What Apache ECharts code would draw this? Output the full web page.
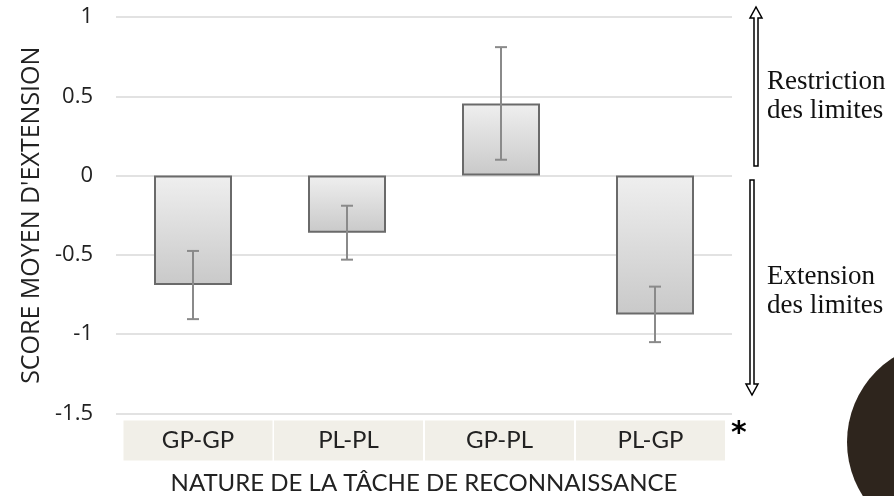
<!DOCTYPE html>
<html>
<head>
<meta charset="utf-8">
<script src="https://cdn.jsdelivr.net/npm/echarts@6/dist/echarts.min.js"></script>
<style>html,body{margin:0;padding:0;background:#fff;}#c{width:894px;height:496px;}</style>
</head>
<body>
<div id="c"></div>
<script>
const categories = ['GP-GP', 'PL-PL', 'GP-PL', 'PL-GP'];
const means = [-0.69, -0.36, 0.455, -0.875];
const errors = [0.215, 0.17, 0.355, 0.175];
const yTicks = [-1.5, -1, -0.5, 0, 0.5, 1];
const yTitle = "SCORE MOYEN D'EXTENSION";
const xTitle = 'NATURE DE LA TÂCHE DE RECONNAISSANCE';
const sideTop = 'Restriction\ndes limites';
const sideBottom = 'Extension\ndes limites';

// horizontal nudge (px) of each label box relative to its category centre
const boxShift = [5, 1.5, -1.5, -4.5];

const chart = echarts.init(document.getElementById('c'));
const errData = means.map((m, i) => [i, m - errors[i], m + errors[i]]);

chart.setOption({
  animation: false,
  grid: { left: 116, right: 162, top: 17, bottom: 82.5, containLabel: false, outerBoundsMode: 'none' },
  xAxis: {
    type: 'category',
    data: categories,
    position: 'bottom',
    axisLine: { show: false, onZero: false },
    axisTick: { show: false },
    axisLabel: {
      margin: 7,
      formatter: function (v, i) {
        const s = boxShift[i] || 0;
        return s >= 0 ? '{s' + i + '|}{b|' + v + '}' : '{b|' + v + '}{s' + i + '|}';
      },
      rich: Object.assign({
        b: {
          fontFamily: 'Lato',
          fontSize: 24,
          color: '#222',
          backgroundColor: '#f1efe8',
          width: 149,
          height: 40,
          lineHeight: 40,
          align: 'center'
        }
      }, Object.fromEntries(boxShift.map((s, i) => ['s' + i, { width: Math.abs(s) * 2, height: 40 }])))
    },
    name: xTitle,
    nameLocation: 'middle',
    nameGap: 58,
    nameTextStyle: { fontFamily: 'Lato', fontSize: 24, color: '#222' }
  },
  yAxis: {
    type: 'value',
    min: yTicks[0],
    max: yTicks[yTicks.length - 1],
    interval: 0.5,
    axisLine: { show: false },
    axisTick: { show: false },
    splitLine: { lineStyle: { color: '#d9d9d9', width: 1.5 } },
    axisLabel: { margin: 23, fontFamily: 'Open Sans', fontSize: 22, color: '#222' },
    name: yTitle,
    nameLocation: 'middle',
    nameGap: 72,
    nameTextStyle: { fontFamily: 'Open Sans', fontSize: 25, color: '#222' }
  },
  series: [
    {
      type: 'bar',
      data: means,
      barWidth: 78,
      itemStyle: {
        color: new echarts.graphic.LinearGradient(0, 0, 0, 1, [
          { offset: 0, color: '#efefef' },
          { offset: 1, color: '#c9c9c9' }
        ]),
        borderColor: '#6a6a6a',
        borderWidth: 2
      }
    },
    {
      type: 'custom',
      data: errData,
      z: 5,
      renderItem: function (params, api) {
        const i = api.value(0);
        const lo = api.coord([i, api.value(1)]);
        const hi = api.coord([i, api.value(2)]);
        const hw = 6;
        const st = { stroke: '#8a8a8a', lineWidth: 2 };
        return {
          type: 'group',
          children: [
            { type: 'line', shape: { x1: lo[0], y1: lo[1], x2: hi[0], y2: hi[1] }, style: st },
            { type: 'line', shape: { x1: lo[0] - hw, y1: lo[1], x2: lo[0] + hw, y2: lo[1] }, style: st },
            { type: 'line', shape: { x1: hi[0] - hw, y1: hi[1], x2: hi[0] + hw, y2: hi[1] }, style: st }
          ]
        };
      }
    }
  ],
  graphic: [
    {
      type: 'polygon',
      shape: { points: [[754, 166], [754, 18], [750, 18], [756, 7], [762, 18], [758, 18], [758, 166]] },
      style: { fill: '#fff', stroke: '#000', lineWidth: 1.5 }
    },
    {
      type: 'polygon',
      shape: { points: [[750, 180], [750, 384], [746, 384], [752, 395], [758, 384], [754, 384], [754, 180]] },
      style: { fill: '#fff', stroke: '#000', lineWidth: 1.5 }
    },
    {
      type: 'text', left: 767, top: 67,
      style: { text: sideTop, font: '27px "Liberation Serif"', fill: '#111', lineHeight: 29 }
    },
    {
      type: 'text', left: 767, top: 262,
      style: { text: sideBottom, font: '27px "Liberation Serif"', fill: '#111', lineHeight: 29 }
    },
    {
      type: 'text', left: 731, top: 419,
      style: { text: '*', font: 'bold 30px "DejaVu Sans"', fill: '#000' }
    },
    {
      type: 'circle',
      shape: { cx: 947, cy: 442, r: 100 },
      style: { fill: '#2e251d' }
    }
  ]
});
</script>
</body>
</html>
